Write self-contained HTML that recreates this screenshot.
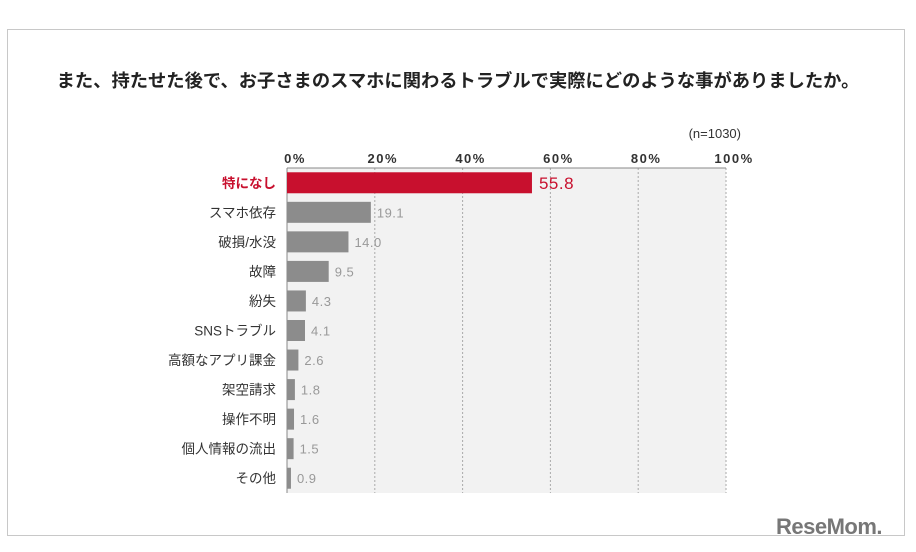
<!DOCTYPE html>
<html><head><meta charset="utf-8"><style>
body{margin:0;width:916px;height:552px;background:#fff;overflow:hidden;font-family:"Liberation Sans","Noto Sans CJK JP",sans-serif;}
#frame{position:absolute;left:7px;top:29px;width:898px;height:507px;border:1px solid #c8c8c8;box-sizing:border-box;}
#title{position:absolute;left:0;top:67px;width:916px;text-align:center;font-size:18.3px;font-weight:bold;color:#222;white-space:nowrap;}
#logo{position:absolute;left:776px;top:514px;font-size:22px;font-weight:bold;color:#777;letter-spacing:-0.5px;}
</style></head><body>
<div id="frame"></div>
<div id="title">また、持たせた後で、お子さまのスマホに関わるトラブルで実際にどのような事がありましたか。</div>
<div id="logo">ReseMom.</div>
<svg id="chart" width="916" height="552" style="position:absolute;left:0;top:0"></svg>
<script>
const categories=["特になし","スマホ依存","破損/水没","故障","紛失","SNSトラブル","高額なアプリ課金","架空請求","操作不明","個人情報の流出","その他"];
const values=[55.8,19.1,14.0,9.5,4.3,4.1,2.6,1.8,1.6,1.5,0.9];
const ticks=[0,20,40,60,80,100];
const note="(n=1030)";
const svg=document.getElementById('chart');const NS="http://www.w3.org/2000/svg";
const x0=287,x1=726,y0=168,y1=493;
const xs=v=>x0+(x1-x0)*v/100;
const step=(y1-y0)/categories.length;
function el(t,a,txt){const e=document.createElementNS(NS,t);for(const k in a)e.setAttribute(k,a[k]);if(txt!==undefined)e.textContent=txt;svg.appendChild(e);return e;}
const bg=el('rect',{x:x0,y:y0,width:x1-x0,height:y1-y0,fill:'#f2f2f2'});


ticks.forEach(t=>{
 if(t>0){const g=el('line',{x1:xs(t),x2:xs(t),y1:y0,y2:y1,stroke:'#aaa','stroke-dasharray':'2,2','stroke-width':1});
 
 }
 const l=el('text',{x:xs(t)+8,y:163,'text-anchor':'middle','font-size':13,'font-weight':'bold',fill:'#333','letter-spacing':'1.5'},t+'%');
 
 
});
const ax=el('line',{x1:x0,x2:x0,y1:y0,y2:y1,stroke:'#888','stroke-width':1});


const topl=el('line',{x1:x0,x2:x1,y1:y0,y2:y0,stroke:'#888','stroke-width':1});


const n=el('text',{x:741,y:138,'text-anchor':'end','font-size':13,fill:'#333'},note);


categories.forEach((c,i)=>{
 const first=i===0;const cy=y0+step*i+step/2;
 const b=el('rect',{x:x0,y:cy-10.5,width:xs(values[i])-x0,height:21,fill:first?'#c8102e':'#8c8c8c'});
 
 
 const lab=el('text',{x:276,y:cy+5,'text-anchor':'end','font-size':13.5,'font-weight':first?'bold':'normal',fill:first?'#c8102e':'#333'},c);
 
 
 const v=el('text',{x:xs(values[i])+(first?7:6),y:cy+(first?6:5),'font-size':first?17:13,fill:first?'#c8102e':'#999','letter-spacing':'0.5'},values[i].toFixed(1));
 
 
});
</script>
</body></html>
